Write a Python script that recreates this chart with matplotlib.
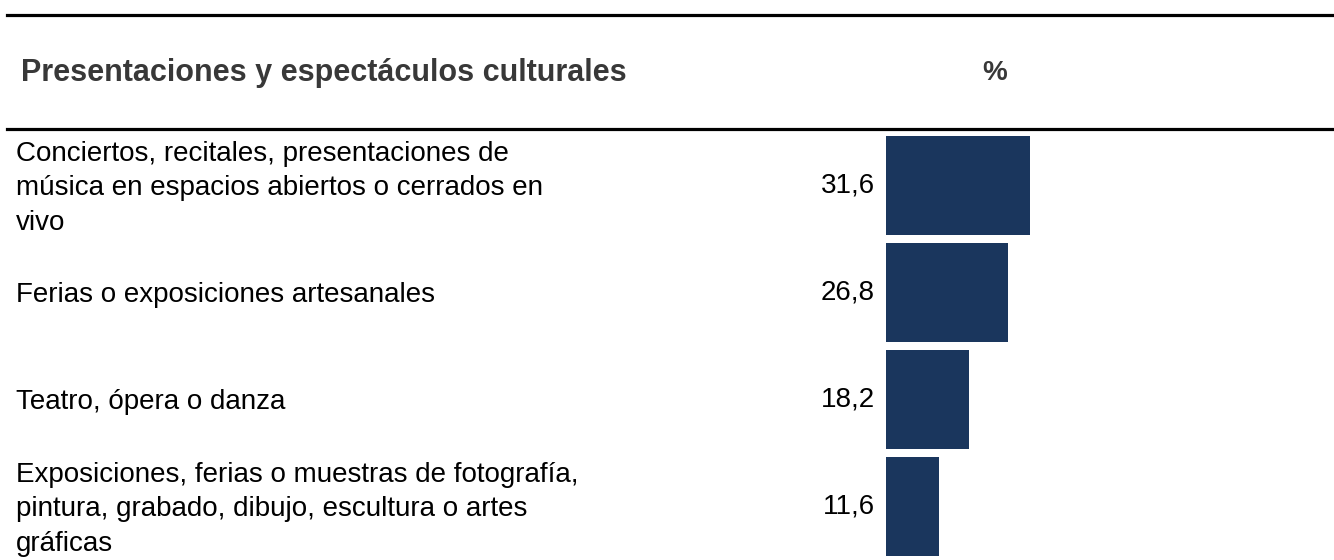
import matplotlib
matplotlib.use('Agg')
import matplotlib.pyplot as plt
from matplotlib.lines import Line2D

# data
categories = [
    'Conciertos, recitales, presentaciones de\nmúsica en espacios abiertos o cerrados en\nvivo',
    'Ferias o exposiciones artesanales',
    'Teatro, ópera o danza',
    'Exposiciones, ferias o muestras de fotografía,\npintura, grabado, dibujo, escultura o artes\ngráficas',
]
values = [31.6, 26.8, 18.2, 11.6]
value_labels = ['31,6', '26,8', '18,2', '11,6']
header_left = 'Presentaciones y espectáculos culturales'
header_right = '%'

BAR_COLOR = '#1a365d'
W, H = 1334, 560

plt.rcParams['font.family'] = ['Liberation Sans', 'DejaVu Sans']

fig = plt.figure(figsize=(W / 100, H / 100), dpi=100)

# bar area: x from 886 px to right edge, y from 132 px to bottom
ax = fig.add_axes([886 / W, 0, 1 - 886 / W, (H - 132) / H])
ypos = list(range(len(values)))
ax.barh(ypos, values, height=0.93, color=BAR_COLOR)
ax.set_xlim(0, (W - 886) / 4.55)
ax.set_ylim(len(values) - 0.5, -0.5)
ax.axis('off')

for y, lab, vl in zip(ypos, categories, value_labels):
    ax.annotate(vl, xy=(0, y), xytext=(-8, 0), textcoords='offset points',
                ha='right', va='center', fontsize=20, color='black')
    ax.annotate(lab, xy=(16 / W, y), xytext=(0, -2), textcoords='offset points',
                xycoords=('figure fraction', 'data'),
                ha='left', va='center', fontsize=20, color='black',
                linespacing=1.42, annotation_clip=False)

# header and rules
fig.text(21 / W, 1 - 73 / H, header_left, ha='left', va='center',
         fontsize=22, fontweight='bold', color='#383838')
fig.text(995 / W, 1 - 73 / H, header_right, ha='center', va='center',
         fontsize=20, fontweight='bold', color='#383838')
for yy in (14.5, 128.5):
    fig.add_artist(Line2D([7 / W, 1], [1 - yy / H, 1 - yy / H],
                          transform=fig.transFigure, color='black', lw=2.3))

fig.savefig('out.png', dpi=100)
